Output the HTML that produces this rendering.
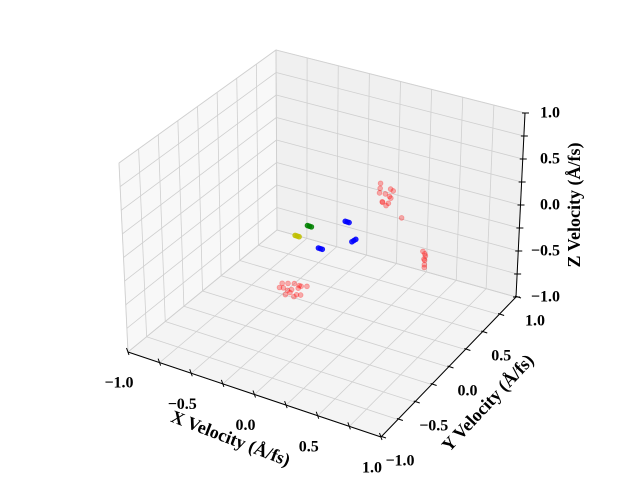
<!DOCTYPE html>
<html><head><meta charset="utf-8"><style>
body{margin:0;background:#fff}
svg{display:block}
text{font-family:"Liberation Serif",serif;font-weight:bold;fill:#000}
</style></head><body>
<svg id="c" width="640" height="480" viewBox="0 0 640 480">
<g id="panes"></g>
<g id="grid"></g>
<g id="axes"></g>
<g id="pts"></g>
<g id="labels"></g>
<text x="230" y="440" font-size="18" text-anchor="middle" dominant-baseline="middle" transform="rotate(21 230 440)">X Velocity (Å/fs)</text>
<text x="489" y="404" font-size="18" text-anchor="middle" dominant-baseline="middle" transform="rotate(-47 489 404)">Y Velocity (Å/fs)</text>
<text x="576" y="205" font-size="18" text-anchor="middle" dominant-baseline="middle" transform="rotate(-90 576 205)">Z Velocity (Å/fs)</text>
</svg>
<script>
const tickVals=[-1,-0.5,0,0.5,1];
const tickLabels=["\u22121.0","\u22120.5","0.0","0.5","1.0"];
const gridVals=[-1,-0.75,-0.5,-0.25,0,0.25,0.5,0.75,1];
const redX=[-0.5,-0.45,-0.55,-0.47,-0.42,-0.57,-0.52,-0.47,-0.44,-0.54,-0.49,-0.59,-0.41,-0.51,-0.46,-0.56,0.15,0.18,0.12,0.16,0.2,0.13,0.17,0.14,0.19,0.11,0.16,0.14,0.29,0.39,0.39,0.4,0.38,0.39,0.4,0.39];
const redY=[0.38,0.4,0.35,0.42,0.37,0.33,0.45,0.36,0.41,0.39,0.34,0.4,0.44,0.31,0.38,0.43,0.56,0.58,0.53,0.6,0.55,0.52,0.57,0.54,0.6,0.56,0.5,0.59,0.55,0.71,0.72,0.7,0.71,0.73,0.7,0.72];
const redZ=[-1.04,-0.99,-1.02,-1.04,-1.06,-1.01,-1.03,-1.09,-1,-1.07,-1.04,-1.02,-1.01,-1.05,-1.08,-1.03,0.12,0.17,0.14,0.07,0.1,0.2,0.02,0.04,0.14,0.22,0.08,-0.03,-0.08,-0.6,-0.55,-0.65,-0.52,-0.58,-0.68,-0.62];
const blueX=[-0.36,-0.35,-0.37,-0.19,-0.18,-0.2,-0.21,-0.2,-0.22];
const blueY=[0.54,0.55,0.53,0.62,0.63,0.61,0.75,0.76,0.74];
const blueZ=[-0.65,-0.66,-0.64,-0.35,-0.36,-0.34,-0.65,-0.64,-0.66];
const greenX=[-0.39,-0.38,-0.4];
const greenY=[0.44,0.45,0.43];
const greenZ=[-0.35,-0.36,-0.34];
const yellowX=[-0.46,-0.45,-0.47];
const yellowY=[0.39,0.4,0.38];
const yellowZ=[-0.45,-0.46,-0.44];

const A=[128,352],B=[381,437],C=[516,297],D=[277,230];
const At=[119,163],Bt=[386,237],Ct=[525,113],Dt=[276,50];
function bil(p,q,r,s,u,v){return [p[0]*(1-u)*(1-v)+q[0]*u*(1-v)+r[0]*u*v+s[0]*(1-u)*v,p[1]*(1-u)*(1-v)+q[1]*u*(1-v)+r[1]*u*v+s[1]*(1-u)*v];}
function P(x,y,z){const u=(x+1)/2,v=(y+1)/2,w=(z+1)/2;const b=bil(A,B,C,D,u,v),t=bil(At,Bt,Ct,Dt,u,v);return [b[0]*(1-w)+t[0]*w,b[1]*(1-w)+t[1]*w];}
const NS="http://www.w3.org/2000/svg";
function mk(g,tag,at){const e=document.createElementNS(NS,tag);for(const k in at)e.setAttribute(k,at[k]);document.getElementById(g).appendChild(e);return e;}
function poly(pts){return pts.map(p=>p[0].toFixed(1)+","+p[1].toFixed(1)).join(" ");}
let e;
e=mk("panes","polygon",{points:poly([P(-1,-1,-1),P(-1,1,-1),P(-1,1,1),P(-1,-1,1)]),fill:"#f8f8f8",stroke:"#e6e6e6"});


e=mk("panes","polygon",{points:poly([P(-1,1,-1),P(1,1,-1),P(1,1,1),P(-1,1,1)]),fill:"#f0f0f0",stroke:"#e6e6e6"});


e=mk("panes","polygon",{points:poly([P(-1,-1,-1),P(1,-1,-1),P(1,1,-1),P(-1,1,-1)]),fill:"#f4f4f4",stroke:"#e6e6e6"});


function ln(g,p,q,col,w){return mk(g,"line",{x1:p[0],y1:p[1],x2:q[0],y2:q[1],stroke:col,"stroke-width":w});}
gridVals.forEach(t=>{
 e=ln("grid",P(t,-1,-1),P(t,1,-1),"#cfcfcf",0.8);
 e=ln("grid",P(-1,t,-1),P(1,t,-1),"#cfcfcf",0.8);
 e=ln("grid",P(t,1,-1),P(t,1,1),"#cfcfcf",0.8);
 e=ln("grid",P(-1,1,t),P(1,1,t),"#cfcfcf",0.8);
 e=ln("grid",P(-1,t,-1),P(-1,t,1),"#cfcfcf",0.8);
 e=ln("grid",P(-1,-1,t),P(-1,1,t),"#cfcfcf",0.8);
});
e=ln("axes",P(-1,-1,-1),P(1,-1,-1),"#000",1);
e=ln("axes",P(1,-1,-1),P(1,1,-1),"#000",1);
e=ln("axes",P(1,1,-1),P(1,1,1),"#000",1);
gridVals.forEach(t=>{
 let p=P(t,-1,-1);e=ln("axes",[p[0]-1.5,p[1]-4],[p[0]+1,p[1]+3],"#000",1);
 p=P(1,t,-1);e=ln("axes",[p[0]-1,p[1]-1],[p[0]+5,p[1]+1],"#000",1);
 p=P(1,1,t);e=ln("axes",[p[0]-3,p[1]],[p[0]+4,p[1]],"#000",1);
});
tickVals.forEach((t,i)=>{
 let p=P(t,-1,-1);
 e=mk("labels","text",{x:p[0]-9,y:p[1]+32,"font-size":16,"text-anchor":"middle","dominant-baseline":"middle"});e.textContent=tickLabels[i];
 
 p=P(1,t,-1);
 e=mk("labels","text",{x:p[0]+19,y:p[1]+25,"font-size":16,"text-anchor":"middle","dominant-baseline":"middle"});e.textContent=tickLabels[i];
 
 p=P(1,1,t);
 e=mk("labels","text",{x:560,y:p[1]+1,"font-size":16,"text-anchor":"end","dominant-baseline":"middle"});e.textContent=tickLabels[i];
 
});
function scatter(xs,ys,zs,col,op,name){xs.forEach((x,i)=>{const p=P(x,ys[i],zs[i]);
 const c=mk("pts","circle",{cx:p[0],cy:p[1],r:2.4,fill:col,"fill-opacity":op,stroke:col,"stroke-opacity":op,"stroke-width":0.8});
 
 });}
scatter(redX,redY,redZ,"#ff0000",0.3,"red-point");
scatter(blueX,blueY,blueZ,"#0000ff",0.85,"blue-point");
scatter(greenX,greenY,greenZ,"#008000",0.85,"green-point");
scatter(yellowX,yellowY,yellowZ,"#bfbf00",0.85,"yellow-point");
</script>
</body></html>
